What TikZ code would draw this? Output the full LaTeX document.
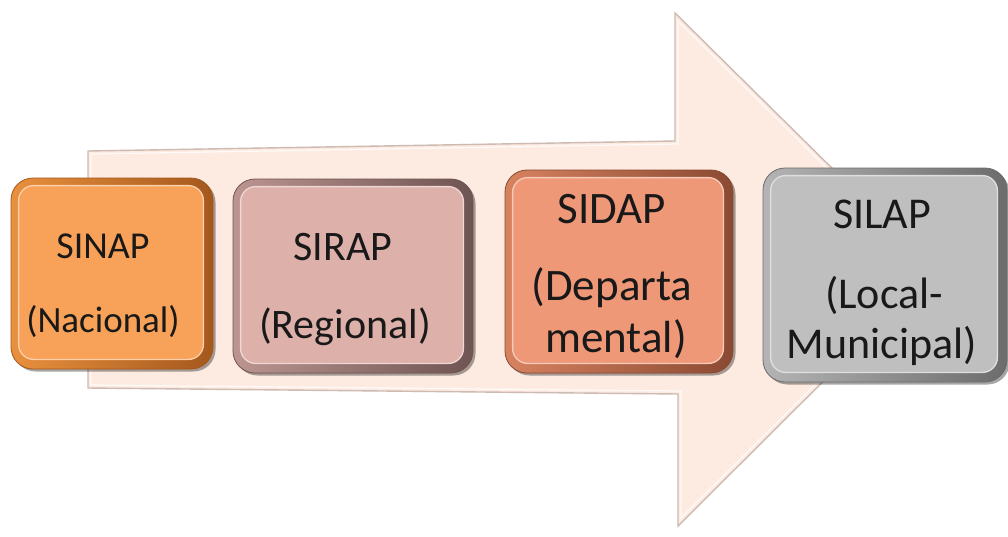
\documentclass[tikz,border=0pt]{standalone}
\usepackage{fontspec}
\setmainfont{Carlito}
\usetikzlibrary{shadows,calc}
\definecolor{arrowfill}{HTML}{FDEAE1}
\definecolor{arrowline}{HTML}{CDBBB3}
\definecolor{naL}{HTML}{E9903E}\definecolor{naD}{HTML}{A4581C}\definecolor{naF}{HTML}{F7A258}
\definecolor{reL}{HTML}{BC9590}\definecolor{reD}{HTML}{6E5452}\definecolor{reF}{HTML}{DDB0AA}
\definecolor{deL}{HTML}{D7825F}\definecolor{deD}{HTML}{8A4A32}\definecolor{deF}{HTML}{EF9878}
\definecolor{loL}{HTML}{B4B4B4}\definecolor{loD}{HTML}{6C6C6C}\definecolor{loF}{HTML}{BFBFBF}
\tikzset{
  rim/.style={rounded corners=22pt, inner sep=0pt, line width=0.8pt,
    drop shadow={shadow xshift=2.5pt, shadow yshift=-2.5pt, opacity=0.35, fill=black}},
  faceplate/.style={rounded corners=15pt, line width=1.3pt},
  txt/.style={anchor=base, inner sep=0pt, text=black!90},
  arrowshape/.style={fill=arrowfill, draw=arrowline, line width=1.4pt, line join=miter}
}
\newcommand{\bevelbox}[8]{%
  \node[rim, left color=#6, right color=#7, draw=#7, minimum width=#4pt, minimum height=#5pt] (#1) at (#2,#3) {};
  \path[faceplate, fill=#8, draw=#8!50!white]
    ([shift={(8,8)}]#1.north west) rectangle ([shift={(-10,-10)}]#1.south east);
}
\begin{document}
\begin{tikzpicture}[x=1pt, y=-1pt]
\useasboundingbox (0,0) rectangle (1008,536);
\fill[white] (0,0) rectangle (1008,536);
% big arrow
\coordinate (a1) at (88,151);
\coordinate (a2) at (675,141);
\coordinate (a3) at (675,13);
\coordinate (a4) at (935,270);
\coordinate (a5) at (678,526);
\coordinate (a6) at (678,394);
\coordinate (a7) at (88,388);
\draw[arrowshape] (a1) -- (a2) -- (a3) -- (a4) -- (a5) -- (a6) -- (a7) -- cycle;
\draw[white, line width=1.2pt, opacity=0.8]
  ($(a1)+(3,3)$) -- ($(a2)+(3,3)$) -- ($(a3)+(3,8)$) -- ($(a4)+(-5,0)$) -- ($(a5)+(3,-8)$) -- ($(a6)+(3,-3)$) -- ($(a7)+(3,-3)$) -- cycle;
% boxes
\bevelbox{sinap}{112}{273.5}{202}{191}{naL}{naD}{naF}
\bevelbox{sirap}{353}{276}{240}{194}{reL}{reD}{reF}
\bevelbox{sidap}{619}{271.5}{228}{203}{deL}{deD}{deF}
\bevelbox{silap}{885}{275}{244}{214}{loL}{loD}{loF}
% texts
\node[txt, font=\fontsize{38}{44}\selectfont] (sinapA) at (103,258) {SINAP};
\node[txt, font=\fontsize{37}{44}\selectfont] (sinapB) at (103,332) {(Nacional)};
\node[txt, font=\fontsize{42}{50}\selectfont] (sirapA) at (343,260) {SIRAP};
\node[txt, font=\fontsize{42}{50}\selectfont] (sirapB) at (345,338) {(Regional)};
\node[txt, font=\fontsize{45}{54}\selectfont] (sidapA) at (612,223) {SIDAP};
\node[txt, font=\fontsize{45}{54}\selectfont] (sidapB) at (612,300) {(Departa};
\node[txt, font=\fontsize{45}{54}\selectfont] (sidapC) at (616,352) {mental)};
\node[txt, font=\fontsize{44}{53}\selectfont] (silapA) at (882,228) {SILAP};
\node[txt, font=\fontsize{44}{53}\selectfont] (silapB) at (884,308) {(Local-};
\node[txt, font=\fontsize{44}{53}\selectfont] (silapC) at (882,358) {Municipal)};
\end{tikzpicture}
\end{document}
